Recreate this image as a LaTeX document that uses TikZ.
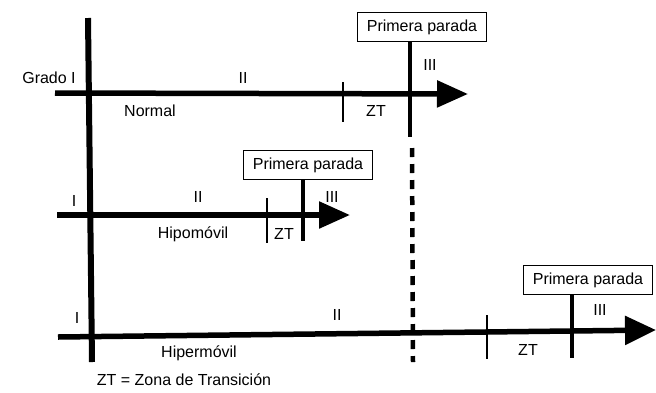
\documentclass[tikz,border=0pt]{standalone}
\usepackage{fontspec}
\setmainfont{Liberation Sans}
\usetikzlibrary{arrows.meta}
\begin{document}
\begin{tikzpicture}[x=1pt,y=-1pt,
  font=\fontsize{16}{19}\selectfont,
  axis/.style={line width=6pt},
  gradeline/.style={line width=5.5pt,-{Triangle[length=31pt,width=26pt]}},
  stopline/.style={line width=4.5pt},
  tick/.style={line width=1.3pt},
  stopbox/.style={draw,line width=1.1pt,fill=white,minimum height=29pt,inner xsep=9pt,inner ysep=2pt},
  lbl/.style={inner sep=0pt}]
\useasboundingbox (0,0) rectangle (656,392);

% common starting axis
\coordinate (ax1) at (88,18);
\coordinate (ax2) at (92,362);
\draw[axis] (ax1) -- (ax2);

% Normal
\coordinate (n0) at (55,93);
\coordinate (n1) at (468,94);
\draw[gradeline] (n0) -- (n1);
\node[stopbox] (b1) at (422,27) {Primera parada};
\coordinate (s1) at (410,137);
\draw[stopline] (b1.south -| s1) -- (s1);
\coordinate (d0) at (412,148);
\coordinate (d1) at (413,362);
\draw[line width=4.5pt,dash pattern=on 9pt off 7pt] (d0) -- (d1);
\coordinate (t1a) at (343,82);
\coordinate (t1b) at (343,122);
\draw[tick] (t1a) -- (t1b);
\node[lbl] (g1) at (49,78) {Grado I};
\node[lbl] (g2) at (243,78) {II};
\node[lbl] (g3) at (430,65) {III};
\node[lbl] (nm) at (150,111) {Normal};
\node[lbl] (z1) at (376,111) {ZT};

% Hipomovil
\coordinate (h0) at (57,215);
\coordinate (h1) at (350,215);
\draw[gradeline] (h0) -- (h1);
\node[stopbox] (b2) at (308,165) {Primera parada};
\coordinate (s2) at (303,241);
\draw[stopline] (b2.south -| s2) -- (s2);
\coordinate (t2a) at (267,198);
\coordinate (t2b) at (267,243);
\draw[tick] (t2a) -- (t2b);
\node[lbl] (h1l) at (74,201) {I};
\node[lbl] (h2l) at (198,197) {II};
\node[lbl] (h3l) at (332,197) {III};
\node[lbl] (hp) at (193,234) {Hipomóvil};
\node[lbl] (z2) at (284,234) {ZT};

% Hipermovil
\coordinate (p0) at (58,337);
\coordinate (p1) at (656,330);
\draw[gradeline,-{Triangle[length=31pt,width=28pt]}] (p0) -- (p1);
\node[stopbox] (b3) at (588,280) {Primera parada};
\coordinate (s3) at (572,358);
\draw[stopline] (b3.south -| s3) -- (s3);
\coordinate (t3a) at (487,315);
\coordinate (t3b) at (487,359);
\draw[tick] (t3a) -- (t3b);
\node[lbl] (p1l) at (77,318) {I};
\node[lbl] (p2l) at (337,315) {II};
\node[lbl] (p3l) at (600,310) {III};
\node[lbl] (hm) at (199,353) {Hipermóvil};
\node[lbl] (z3) at (528,350) {ZT};

% legend
\node[lbl] (key) at (184,380) {ZT = Zona de Transición};
\end{tikzpicture}
\end{document}
